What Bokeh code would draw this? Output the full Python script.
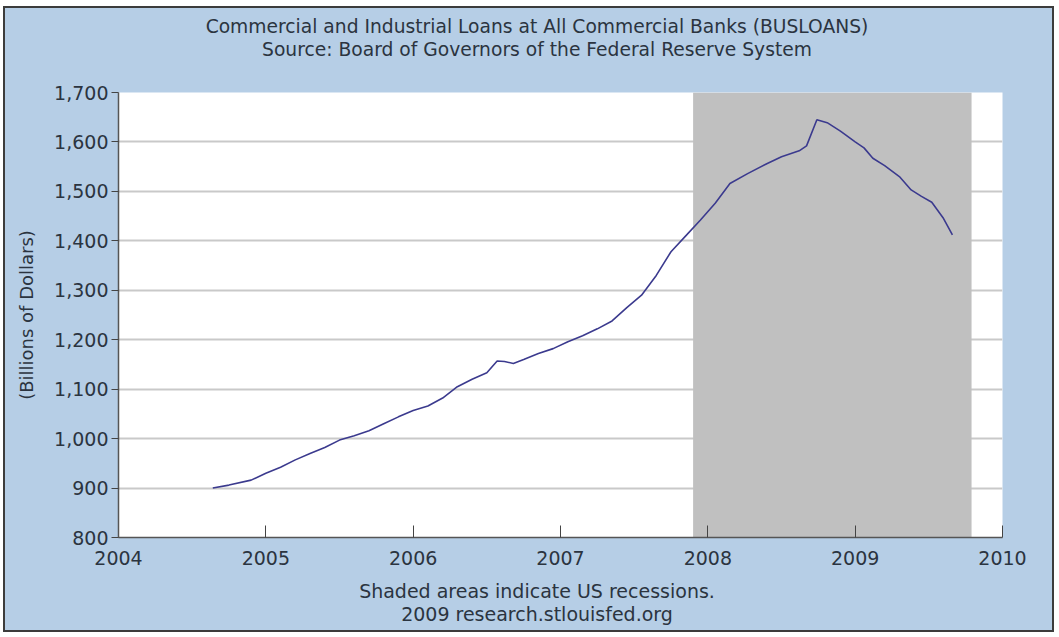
from bokeh.plotting import figure
from bokeh.layouts import column
from bokeh.models import (Range1d, FixedTicker, NumeralTickFormatter, BoxAnnotation, Div)
from bokeh.embed import file_html
from bokeh.resources import INLINE

# ---- data (decimal years, billions of dollars) ----
dates = [2004.64, 2004.75, 2004.90, 2005.00, 2005.10, 2005.20, 2005.30, 2005.40,
         2005.50, 2005.60, 2005.70, 2005.80, 2005.90, 2006.00, 2006.10, 2006.20,
         2006.30, 2006.40, 2006.50, 2006.57, 2006.62, 2006.68, 2006.75, 2006.85,
         2006.95, 2007.05, 2007.15, 2007.25, 2007.35, 2007.45, 2007.55, 2007.65,
         2007.75, 2007.85, 2007.95, 2008.05, 2008.15, 2008.27, 2008.40, 2008.50,
         2008.62, 2008.67, 2008.74, 2008.81, 2008.90, 2009.00, 2009.06, 2009.12,
         2009.20, 2009.30, 2009.38, 2009.45, 2009.52, 2009.60, 2009.66]
busloans = [900, 906, 916, 930, 942, 957, 970, 982,
            997, 1006, 1016, 1030, 1044, 1057, 1066, 1082,
            1105, 1120, 1133, 1157, 1156, 1152, 1160, 1172,
            1182, 1196, 1208, 1222, 1238, 1265, 1290, 1330,
            1378, 1410, 1442, 1476, 1516, 1536, 1556, 1570,
            1582, 1592, 1645, 1639, 1622, 1600, 1588, 1567,
            1552, 1530, 1503, 1490, 1478, 1445, 1412]
recession_start = [2007.90]
recession_end = [2009.79]
x_ticks = [2004, 2005, 2006, 2007, 2008, 2009, 2010]
y_ticks = [800, 900, 1000, 1100, 1200, 1300, 1400, 1500, 1600, 1700]

title_lines = ["Commercial and Industrial Loans at All Commercial Banks (BUSLOANS)",
               "Source: Board of Governors of the Federal Reserve System"]
footer_lines = ["Shaded areas indicate US recessions.",
                "2009 research.stlouisfed.org"]

BG = "#b6cee6"
TXT = "#2b3440"
FONT = "DejaVu Sans"
FS = "19px"
W = 1047


def text_block(lines, size, height, pad_top):
    return Div(text="<br>".join(lines), width=W, height=height, margin=0,
               styles={"font-family": FONT, "font-size": size, "color": TXT,
                       "line-height": "23px", "text-align": "center",
                       "padding-top": f"{pad_top}px", "padding-left": "17px",
                       "box-sizing": "border-box", "background-color": BG})


p = figure(width=W, height=508, output_backend="svg", toolbar_location=None, margin=0,
           x_range=Range1d(x_ticks[0], x_ticks[-1]), y_range=Range1d(y_ticks[0], y_ticks[-1]),
           min_border_left=113, min_border_right=50, min_border_top=24, min_border_bottom=39)
p.border_fill_color = BG
p.background_fill_color = "white"
p.outline_line_color = None

p.xgrid.grid_line_color = None
p.ygrid.grid_line_color = "#c9c9c9"
p.ygrid.grid_line_width = 2
p.ygrid.ticker = FixedTicker(ticks=y_ticks)

for s, e in zip(recession_start, recession_end):
    p.add_layout(BoxAnnotation(left=s, right=e, fill_color="#c0c0c0", fill_alpha=1.0,
                               line_color=None, level="underlay"))

p.line(dates, busloans, line_color="#3b3a8e", line_width=1.6)

p.xaxis.ticker = FixedTicker(ticks=x_ticks)
p.xaxis.formatter = NumeralTickFormatter(format="0")
p.xaxis.major_tick_in = 12
p.xaxis.major_tick_out = 0
p.xaxis.minor_tick_line_color = None
p.xaxis.major_label_standoff = 13

p.yaxis.ticker = FixedTicker(ticks=y_ticks)
p.yaxis.formatter = NumeralTickFormatter(format="0,0")
p.yaxis.major_tick_in = 0
p.yaxis.major_tick_out = 7
p.yaxis.minor_tick_line_color = None
p.yaxis.major_label_standoff = 3
p.yaxis.axis_label = "(Billions of Dollars)"
p.yaxis.axis_label_text_font_style = "normal"
p.yaxis.axis_label_text_font = FONT
p.yaxis.axis_label_text_font_size = "18px"
p.yaxis.axis_label_text_color = TXT
p.yaxis.axis_label_standoff = 14

for ax in (p.xaxis, p.yaxis):
    ax.axis_line_color = "#555555"
    ax.axis_line_width = 1.5
    ax.major_tick_line_color = "#444444"
    ax.major_label_text_font = FONT
    ax.major_label_text_font_size = FS
    ax.major_label_text_color = TXT

head = text_block(title_lines, "18.7px", 60, 7)
foot = text_block(footer_lines, FS, 54, 4)

layout = column(head, p, foot, spacing=0, margin=(6, 0, 0, 3),
                styles={"background-color": BG, "border": "2px solid #3c3c3c"})

open("out.html", "w").write(file_html(layout, INLINE))
